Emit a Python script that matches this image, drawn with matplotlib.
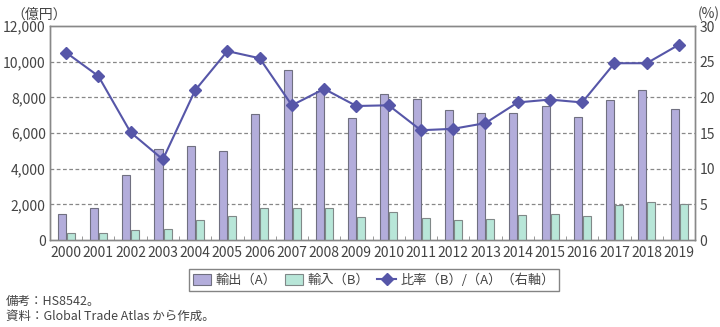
import matplotlib.pyplot as plt
import numpy as np

plt.rcParams['font.family'] = ['Noto Sans CJK JP', 'DejaVu Sans']

years = ["2000", "2001", "2002", "2003", "2004", "2005", "2006", "2007", "2008", "2009",
         "2010", "2011", "2012", "2013", "2014", "2015", "2016", "2017", "2018", "2019"]
exports = [1460, 1810, 3630, 5120, 5270, 4970, 7070, 9550, 8370, 6840,
           8170, 7890, 7310, 7120, 7140, 7510, 6920, 7850, 8390, 7350]
imports = [390, 410, 540, 600, 1100, 1330, 1790, 1810, 1780, 1290,
           1550, 1210, 1140, 1180, 1380, 1480, 1350, 1960, 2110, 2000]
ratio = [26.3, 23.0, 15.1, 11.3, 21.0, 26.5, 25.5, 18.9, 21.2, 18.8,
         18.9, 15.4, 15.6, 16.4, 19.3, 19.7, 19.3, 24.8, 24.8, 27.4]

txt = "#444444"
fig = plt.figure(figsize=(7.2, 3.27), dpi=100)
ax = fig.add_axes([0.0694, 0.266, 0.896, 0.654])
ax2 = ax.twinx()

x = np.arange(len(years))
b1 = ax.bar(x - 0.135, exports, 0.25, color="#b3addb", edgecolor="#707080", linewidth=0.8,
            label="輸出（A）", zorder=3)
b2 = ax.bar(x + 0.145, imports, 0.25, color="#b8e6d8", edgecolor="#808888", linewidth=0.8,
            label="輸入（B）", zorder=3)
l1, = ax2.plot(x, ratio, color="#5656a8", marker="D", markersize=6, linewidth=1.5,
               label="比率（B）/（A）（右軸）", zorder=4)

ax.set_xlim(-0.5, len(years) - 0.5)
ax.set_ylim(0, 12000)
ax2.set_ylim(0, 30)
ax.set_yticks(range(0, 12001, 2000))
ax.set_yticklabels([f"{v:,}" for v in range(0, 12001, 2000)])
ax2.set_yticks(range(0, 31, 5))
ax.set_xticks(x)
ax.set_xticklabels(years)
ax.set_xticks(x[:-1] + 0.5, minor=True)
ax.tick_params(axis="x", which="major", length=0, labelsize=10, colors=txt, pad=4)
ax.tick_params(axis="x", which="minor", length=3, direction="in", color="#888888")
ax.tick_params(axis="y", length=0, labelsize=10, colors=txt, pad=3)
ax2.tick_params(axis="y", length=0, labelsize=10, colors=txt, pad=3)

for v in range(2000, 12000, 2000):
    ax.axhline(v, color="#888888", linestyle=(0, (3, 2)), linewidth=0.9, zorder=1)

for a in (ax, ax2):
    for s in a.spines.values():
        s.set_color("#888888")
        s.set_linewidth(1.0)

fig.text(0.055, 0.935, "（億円）", fontsize=10, color=txt, ha="center", va="bottom")
fig.text(0.985, 0.935, "(%)", fontsize=10, color=txt, ha="center", va="bottom")

leg = fig.legend(handles=[b1, b2, l1], loc="center", bbox_to_anchor=(0.519, 0.144), ncol=3,
                 fontsize=9.5, frameon=True, fancybox=False, edgecolor="#666666",
                 handlelength=1.4, handleheight=0.9, handletextpad=0.35, columnspacing=0.6,
                 borderpad=0.3)
for t in leg.get_texts():
    t.set_color(txt)

fig.text(0.008, 0.077, "備考：HS8542。", fontsize=9, color=txt, va="center")
fig.text(0.008, 0.034, "資料：Global Trade Atlas から作成。", fontsize=9, color=txt, va="center")

fig.savefig("out.png", dpi=100)
